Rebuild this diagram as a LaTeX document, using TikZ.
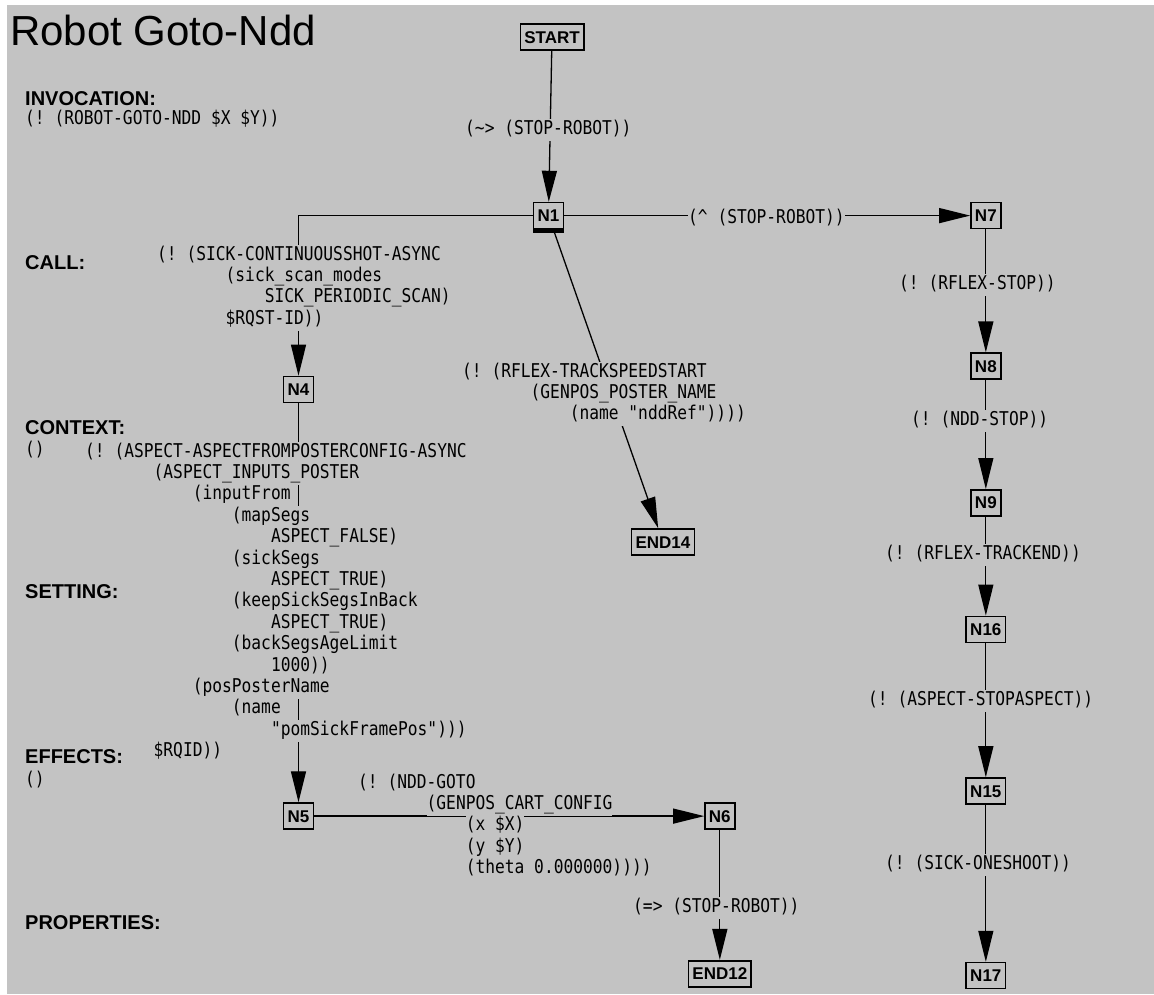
\documentclass[tikz,border=0pt]{standalone}
\usepackage{fontspec}
\setmainfont{Liberation Sans}
\setsansfont{Liberation Sans}
\setmonofont[FakeStretch=0.855]{DejaVu Sans Mono}
\usetikzlibrary{arrows.meta, positioning}
\definecolor{bggrey}{RGB}{195,195,195}
\setlength{\fboxsep}{0pt}
\frenchspacing
\newcommand\codefont{\fontsize{19}{21.4}\selectfont\ttfamily}
\newcommand\lispln[2]{\hspace*{#1\fontcharwd\font`0}\colorbox{bggrey}{\strut #2}}
\tikzstyle{state} = [rectangle, draw=black, line width=1.6pt, fill=bggrey, font=\fontsize{17}{20}\selectfont\sffamily\bfseries, inner xsep=4pt, inner ysep=0pt, minimum height=26pt, text height=12.2pt, text depth=0pt]
\tikzstyle{arrow} = [line width=1.3pt, -{Triangle[length=31pt, width=15pt]}]
\tikzstyle{edgetext} = [anchor=north west, inner sep=0pt, align=left, font=\codefont]
\tikzstyle{heading} = [anchor=west, inner sep=0pt, font=\fontsize{20}{24}\selectfont\sffamily\bfseries]
\tikzstyle{bodytext} = [anchor=west, inner sep=0pt, font=\codefont]

\begin{document}
\begin{tikzpicture}[x=1pt, y=-1pt]

    % page
    \fill[white] (0,0) rectangle (1154,994);
    \fill[bggrey] (7,5) rectangle (1154,994);
    \useasboundingbox (0,0) rectangle (1154,994);

    % left column
    \node (title) [anchor=base west, inner sep=0pt, font=\fontsize{42}{48}\selectfont\sffamily] at (10,45) {Robot Goto-Ndd};
    \node (invocation) [heading] at (25,99) {INVOCATION:};
    \node (invocall) [bodytext] at (25,119) {(! (ROBOT-GOTO-NDD \$X \$Y))};
    \node (call) [heading] at (25,263) {CALL:};
    \node (context) [heading] at (25,428) {CONTEXT:};
    \node (contextval) [bodytext] at (25,450) {()};
    \node (setting) [heading] at (25,592) {SETTING:};
    \node (effects) [heading] at (25,757) {EFFECTS:};
    \node (effectsval) [bodytext] at (25,780) {()};
    \node (properties) [heading] at (25,923) {PROPERTIES:};

    % graph nodes
    \node (start) [state] at (552,37) {START};
    \node (n1) [state, below=151pt of start, xshift=-3.5pt] {N1};
    \node (n4) [state] at (298.5,389.5) {N4};
    \node (n5) [state, below=399pt of n4] {N5};
    \node (n6) [state, right=390pt of n5] {N6};
    \node (end12) [state, below=130pt of n6] {END12};
    \node (end14) [state] at (663,542) {END14};
    \node (n7) [state, right=406pt of n1] {N7};
    \node (n8) [state, below=123pt of n7] {N8};
    \node (n9) [state, below=109pt of n8] {N9};
    \node (n16) [state, below=99pt of n9] {N16};
    \node (n15) [state, below=134pt of n16] {N15};
    \node (n17) [state, below=157pt of n15] {N17};
    \fill (n1.south west) rectangle ([yshift=-4pt]n1.south east);

    \draw [arrow] (start) -- (n1);
    \draw [arrow] (n1) -| (n4);
    \draw [arrow] (n1) -- (n7);
    \draw [arrow] (n1) -- (end14);
    \draw [arrow] (n4) -- (n5);
    \draw [arrow] (n5) -- (n6);
    \draw [arrow] (n6) -- (end12);
    \draw [arrow] (n7) -- (n8);
    \draw [arrow] (n8) -- (n9);
    \draw [arrow] (n9) -- (n16);
    \draw [arrow] (n16) -- (n15);
    \draw [arrow] (n15) -- (n17);

    % edge texts, line by line
    \node (lstart) [edgetext] at (465,119) {\lispln{0}{(\textasciitilde> (STOP-ROBOT))}};
    \node (lsick) [edgetext] at (157,245) {\lispln{0}{(! (SICK-CONTINUOUSSHOT-ASYNC}\\
        \lispln{7}{(sick\_scan\_modes}\\
        \lispln{11}{SICK\_PERIODIC\_SCAN)}\\
        \lispln{7}{\$RQST-ID))}};
    \node (lstop) [edgetext] at (688,208) {\lispln{0}{(\textasciicircum{} (STOP-ROBOT))}};
    \node (ltrack) [edgetext] at (462,362) {\lispln{0}{(! (RFLEX-TRACKSPEEDSTART}\\
        \lispln{7}{(GENPOS\_POSTER\_NAME}\\
        \lispln{11}{(name "nddRef"))))}};
    \node (laspect) [edgetext] at (85,442) {\lispln{0}{(! (ASPECT-ASPECTFROMPOSTERCONFIG-ASYNC}\\
        \lispln{7}{(ASPECT\_INPUTS\_POSTER}\\
        \lispln{11}{(inputFrom}\\
        \lispln{15}{(mapSegs}\\
        \lispln{19}{ASPECT\_FALSE)}\\
        \lispln{15}{(sickSegs}\\
        \lispln{19}{ASPECT\_TRUE)}\\
        \lispln{15}{(keepSickSegsInBack}\\
        \lispln{19}{ASPECT\_TRUE)}\\
        \lispln{15}{(backSegsAgeLimit}\\
        \lispln{19}{1000))}\\
        \lispln{11}{(posPosterName}\\
        \lispln{15}{(name}\\
        \lispln{19}{"pomSickFramePos")))}\\
        \lispln{7}{\$RQID))}};
    \node (lgoto) [edgetext] at (358,773) {\lispln{0}{(! (NDD-GOTO}\\
        \lispln{7}{(GENPOS\_CART\_CONFIG}\\
        \lispln{11}{(x \$X)}\\
        \lispln{11}{(y \$Y)}\\
        \lispln{11}{(theta 0.000000))))}};
    \node (lend) [edgetext] at (633,897) {\lispln{0}{(=> (STOP-ROBOT))}};
    \node (lrflex) [edgetext] at (899,274) {\lispln{0}{(! (RFLEX-STOP))}};
    \node (lndd) [edgetext] at (911,410) {\lispln{0}{(! (NDD-STOP))}};
    \node (ltrackend) [edgetext] at (885,544) {\lispln{0}{(! (RFLEX-TRACKEND))}};
    \node (lstopaspect) [edgetext] at (868,690) {\lispln{0}{(! (ASPECT-STOPASPECT))}};
    \node (loneshoot) [edgetext] at (885,854) {\lispln{0}{(! (SICK-ONESHOOT))}};

\end{tikzpicture}
\end{document}
